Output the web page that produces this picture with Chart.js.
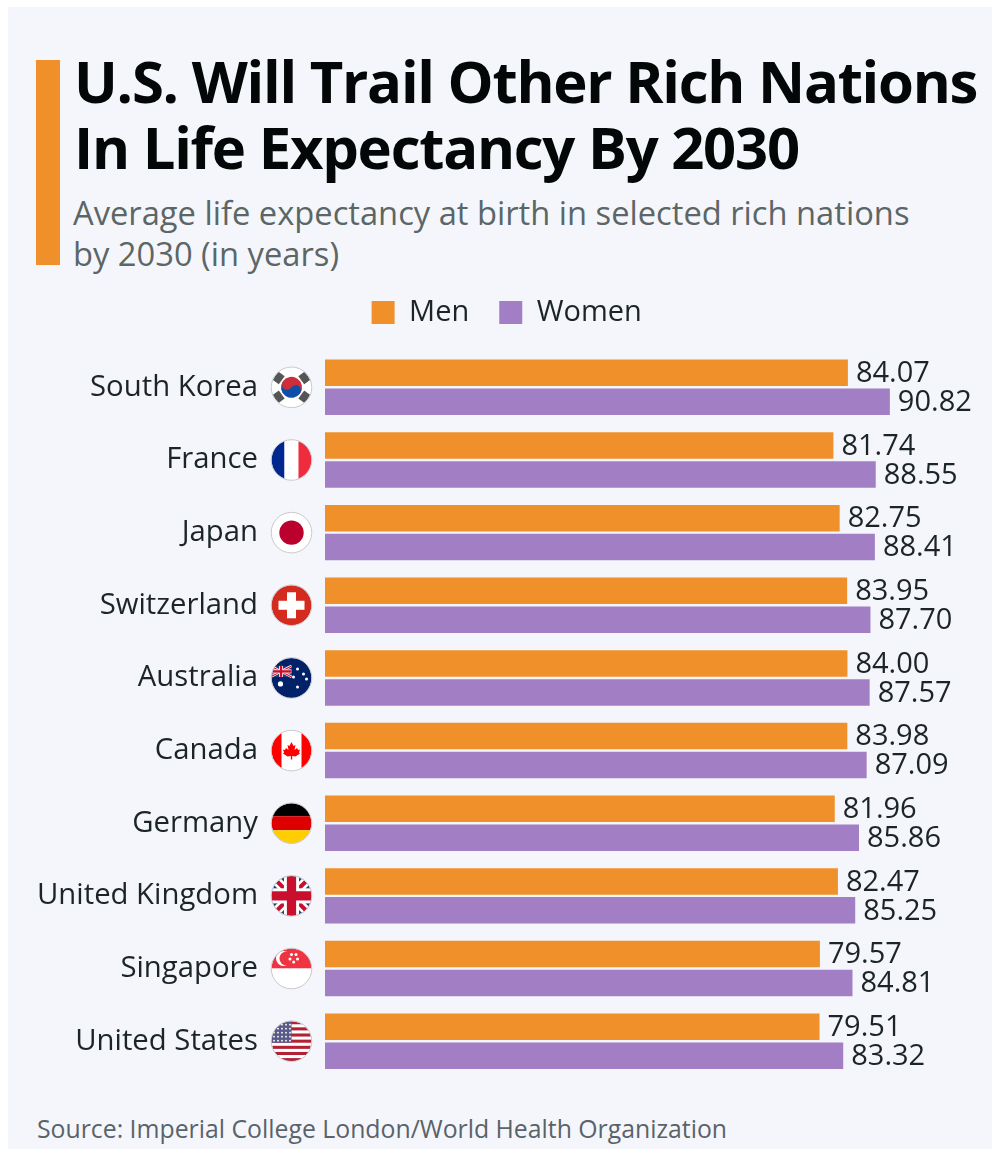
<!DOCTYPE html>
<html>
<head>
<meta charset="utf-8">
<title>Life expectancy 2030</title>
<script src="https://cdn.jsdelivr.net/npm/chart.js@4"></script>
<style>
  html, body { margin: 0; padding: 0; background: #fff; overflow: hidden; }
  #page { position: absolute; left: 8px; top: 7px; width: 984px; height: 1142px; background: #f5f6fb; }
  #accent { position: absolute; left: 36px; top: 60px; width: 24px; height: 205px; background: #f0902a; }
  #title, #subtitle, #source { position: absolute; font-family: "Open Sans", sans-serif; white-space: nowrap; }
  #title { left: 74px; top: 48px; font-size: 58px; line-height: 66px; font-weight: 700; color: #040707; letter-spacing: -1.25px; }
  #subtitle { left: 73px; top: 193px; font-size: 32.7px; line-height: 40.5px; color: #5b6667; }
  #source { left: 37px; top: 1112px; font-size: 24.8px; line-height: 32px; color: #59636a; }
  canvas { position: absolute; left: 0; top: 0; }
</style>
</head>
<body>
<div id="page"></div>
<div id="accent"></div>
<div id="title">U.S. Will Trail Other Rich Nations<br>In Life Expectancy By 2030</div>
<div id="subtitle">Average life expectancy at birth in selected rich nations<br>by 2030 (in years)</div>
<div id="source">Source: Imperial College London/World Health Organization</div>
<canvas id="chart" width="992" height="1149"></canvas>
<script>
const countries = ['South Korea', 'France', 'Japan', 'Switzerland', 'Australia', 'Canada', 'Germany', 'United Kingdom', 'Singapore', 'United States'];
const men = [84.07, 81.74, 82.75, 83.95, 84.00, 83.98, 81.96, 82.47, 79.57, 79.51];
const women = [90.82, 88.55, 88.41, 87.70, 87.57, 87.09, 85.86, 85.25, 84.81, 83.32];

const FONT = '"Open Sans", sans-serif';
const ORANGE = '#f0902a';
const PURPLE = '#a27fc4';

function rect(ctx, c, x, y, w, h) {
  ctx.fillStyle = c;
  ctx.fillRect(x, y, w, h);
}

function line(ctx, c, w, x1, y1, x2, y2) {
  ctx.strokeStyle = c;
  ctx.lineWidth = w;
  ctx.beginPath();
  ctx.moveTo(x1, y1);
  ctx.lineTo(x2, y2);
  ctx.stroke();
}

function dot(ctx, c, x, y, r) {
  ctx.fillStyle = c;
  ctx.beginPath();
  ctx.arc(x, y, r, 0, Math.PI * 2);
  ctx.fill();
}

function unionJack(ctx, x, y, w, h) {
  rect(ctx, '#1f3a7a', x, y, w, h);
  const t = h / 5;
  line(ctx, '#fff', t * 1.1, x, y, x + w, y + h);
  line(ctx, '#fff', t * 1.1, x + w, y, x, y + h);
  line(ctx, '#c8102e', t * 0.5, x, y, x + w, y + h);
  line(ctx, '#c8102e', t * 0.5, x + w, y, x, y + h);
  rect(ctx, '#fff', x, y + h / 2 - t * 0.9, w, t * 1.8);
  rect(ctx, '#fff', x + w / 2 - t * 0.9, y, t * 1.8, h);
  rect(ctx, '#c8102e', x, y + h / 2 - t * 0.55, w, t * 1.1);
  rect(ctx, '#c8102e', x + w / 2 - t * 0.55, y, t * 1.1, h);
}

// flags are drawn around 0,0 on a circle of radius 20
const flags = {
  'South Korea'(ctx) {
    rect(ctx, '#fff', -21, -21, 42, 42);
    ctx.save();
    ctx.rotate(0.6);
    ctx.fillStyle = '#cd2e3a';
    ctx.beginPath(); ctx.arc(0, 0, 10.5, Math.PI, 0); ctx.fill();
    ctx.fillStyle = '#0f4fa8';
    ctx.beginPath(); ctx.arc(0, 0, 10.5, 0, Math.PI); ctx.fill();
    dot(ctx, '#cd2e3a', -5.2, 0, 5.2);
    dot(ctx, '#0f4fa8', 5.2, 0, 5.2);
    ctx.restore();
    [[-13, -9.5], [13, -9.5], [-13, 9.5], [13, 9.5]].forEach(([x, y]) => {
      ctx.save();
      ctx.translate(x, y);
      ctx.rotate(Math.atan2(y, x) + Math.PI / 2);
      rect(ctx, '#555', -5, -4, 10, 8);
      ctx.restore();
    });
  },
  'France'(ctx) {
    rect(ctx, '#00268f', -21, -21, 14, 42);
    rect(ctx, '#fff', -7, -21, 14, 42);
    rect(ctx, '#ef2b3d', 7, -21, 14, 42);
  },
  'Japan'(ctx) {
    rect(ctx, '#fff', -21, -21, 42, 42);
    dot(ctx, '#bc002d', 0, 0, 12.2);
  },
  'Switzerland'(ctx) {
    rect(ctx, '#d52b1e', -21, -21, 42, 42);
    rect(ctx, '#fff', -13, -4.5, 26, 9);
    rect(ctx, '#fff', -4.5, -13, 9, 26);
  },
  'Australia'(ctx) {
    rect(ctx, '#012169', -21, -21, 42, 42);
    unionJack(ctx, -21, -12, 21, 11);
    dot(ctx, '#fff', -11, 6, 2.6);
    [[6, -9], [12, -4], [6, 9], [2, -1], [15, 1]].forEach(([x, y]) => dot(ctx, '#fff', x, y, 1.5));
  },
  'Canada'(ctx) {
    rect(ctx, '#fff', -21, -21, 42, 42);
    rect(ctx, '#ff0000', -21, -21, 11, 42);
    rect(ctx, '#ff0000', 10, -21, 11, 42);
    ctx.fillStyle = '#ff0000';
    ctx.beginPath();
    [[0, -8.5], [2, -4.5], [4, -5.5], [3, -0.5], [5.5, -2.5], [6.5, -0.5], [8.5, -1], [7.5, 2], [8.5, 3], [4, 6], [0.7, 5.5], [0.7, 9], [-0.7, 9], [-0.7, 5.5], [-4, 6], [-8.5, 3], [-7.5, 2], [-8.5, -1], [-6.5, -0.5], [-5.5, -2.5], [-3, -0.5], [-4, -5.5], [-2, -4.5]]
      .forEach(([x, y], i) => i ? ctx.lineTo(x, y) : ctx.moveTo(x, y));
    ctx.closePath();
    ctx.fill();
  },
  'Germany'(ctx) {
    rect(ctx, '#000', -21, -21, 42, 14);
    rect(ctx, '#dd0000', -21, -7, 42, 14);
    rect(ctx, '#ffce00', -21, 7, 42, 14);
  },
  'United Kingdom'(ctx) {
    unionJack(ctx, -21, -21, 42, 42);
  },
  'Singapore'(ctx) {
    rect(ctx, '#ef3340', -21, -21, 42, 21);
    rect(ctx, '#fff', -21, 0, 42, 21);
    dot(ctx, '#fff', -8, -10, 7.5);
    dot(ctx, '#ef3340', -5, -10, 7);
    [[-1, -14], [3.5, -14], [5, -9.5], [1.2, -6.5], [-2.5, -9.5]].forEach(([x, y]) => dot(ctx, '#fff', x + 1, y, 1.5));
  },
  'United States'(ctx) {
    rect(ctx, '#fff', -21, -21, 42, 42);
    const s = 40 / 13;
    for (let i = 0; i < 13; i += 2) rect(ctx, '#b22234', -21, -20 + i * s, 42, s);
    rect(ctx, '#5a5a8a', -21, -20, 21, s * 7);
    for (let r = 0; r < 5; r++) {
      for (let c = 0; c < 5; c++) dot(ctx, '#fff', -17.5 + c * 4, -16.5 + r * 4, 0.9);
    }
  }
};

// circular flag next to each country name
const flagPlugin = {
  id: 'flagPlugin',
  afterDraw(chart) {
    const { ctx, scales } = chart;
    countries.forEach((name, i) => {
      ctx.save();
      ctx.translate(291.5, scales.y.getPixelForValue(i));
      ctx.beginPath();
      ctx.arc(0, 0, 20, 0, Math.PI * 2);
      ctx.clip();
      flags[name](ctx);
      ctx.restore();
      ctx.save();
      ctx.translate(291.5, scales.y.getPixelForValue(i));
      ctx.strokeStyle = '#c9c9cc';
      ctx.lineWidth = 1;
      ctx.beginPath();
      ctx.arc(0, 0, 20.3, 0, Math.PI * 2);
      ctx.stroke();
      ctx.restore();
    });
  }
};

// numbers at the end of each bar
const valueLabels = {
  id: 'valueLabels',
  afterDatasetsDraw(chart) {
    const { ctx } = chart;
    ctx.save();
    ctx.font = '29px ' + FONT;
    ctx.fillStyle = '#1c2526';
    ctx.textAlign = 'left';
    ctx.textBaseline = 'middle';
    chart.data.datasets.forEach((ds, d) => {
      chart.getDatasetMeta(d).data.forEach((bar, i) => {
        ctx.fillText(ds.data[i].toFixed(2), bar.x + 8, bar.y + 1);
      });
    });
    ctx.restore();
  }
};

new Chart(document.getElementById('chart'), {
  type: 'bar',
  data: {
    labels: countries,
    datasets: [
      { label: 'Men', data: men, backgroundColor: ORANGE, categoryPercentage: 0.797, barPercentage: 0.914 },
      { label: 'Women', data: women, backgroundColor: PURPLE, categoryPercentage: 0.797, barPercentage: 0.914 }
    ]
  },
  options: {
    indexAxis: 'y',
    responsive: false,
    animation: false,
    layout: { padding: { left: 23, right: 1.5, top: 268, bottom: 71.5 } },
    plugins: {
      title: { display: false },
      tooltip: { enabled: false },
      legend: {
        position: 'top',
        labels: {
          boxWidth: 23,
          boxHeight: 23,
          padding: 30,
          color: '#1c2526',
          font: { family: FONT, size: 29 }
        }
      }
    },
    scales: {
      // no ticks on this axis, it only keeps a gap under the legend
      x: {
        position: 'top',
        min: 0,
        max: 107,
        border: { display: false },
        grid: { display: false, drawTicks: false },
        ticks: { display: false },
        afterFit(scale) { scale.height = 14; }
      },
      y: {
        afterFit(scale) {
          scale.width = 302;
          scale.paddingTop = 0;
          scale.paddingBottom = 0;
        },
        border: { display: false },
        grid: { display: false, drawTicks: false },
        ticks: { padding: 67, color: '#1c2526', font: { family: FONT, size: 29.3 } }
      }
    }
  },
  plugins: [flagPlugin, valueLabels]
});
</script>
</body>
</html>
